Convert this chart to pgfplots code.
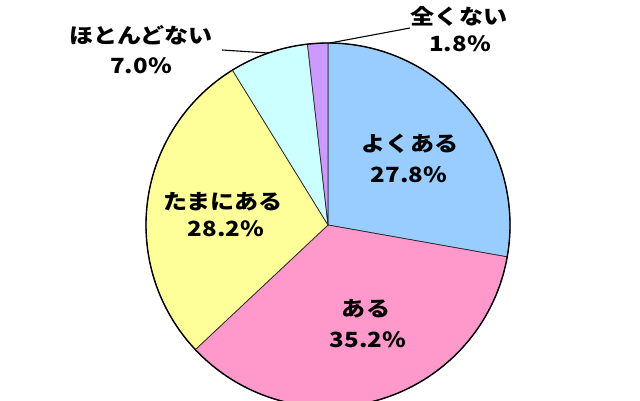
\documentclass[border=0pt]{standalone}
\usepackage{pgfplots}
\pgfplotsset{compat=1.18}
\usepackage{fontspec}
\newfontfamily\jp{Noto Sans CJK JP}

\definecolor{yoku}{HTML}{99CCFF}
\definecolor{aru}{HTML}{FF99CC}
\definecolor{tama}{HTML}{FFFF99}
\definecolor{hoto}{HTML}{CCFFFF}
\definecolor{mata}{HTML}{CC99FF}

% centre and radius of the pie, in axis units (1 unit = 1bp)
\newcommand\cx{328}
\newcommand\cy{175}
\newcommand\rr{182}

% \slice{percent before}{percent}{colour}
\newcommand\slice[3]{%
  \pgfmathsetmacro\sa{90-3.6*#1}%
  \pgfmathsetmacro\sb{90-3.6*(#1+#2)}%
  \pgfmathsetmacro\sx{\cx+\rr*cos(\sa)}%
  \pgfmathsetmacro\sy{\cy+\rr*sin(\sa)}%
  \edef\tmp{\noexpand\filldraw[fill=#3, draw=black!85, line width=0.7pt]
    (axis cs:\cx,\cy) -- (axis cs:\sx,\sy)
    arc[start angle=\sa, end angle=\sb, radius=\rr bp] -- cycle;}%
  \tmp}

\newcommand\lab[1]{\scalebox{1.15}[1]{\jp\bfseries\fontsize{21}{24}\selectfont #1}}

\begin{document}
\begin{tikzpicture}
\begin{axis}[
  name=pie,
  hide axis,
  scale only axis,
  width=640bp, height=400bp,
  xmin=0, xmax=640, ymin=0, ymax=400,
  enlargelimits=false,
  clip=true,
]
  \slice{0}{27.8}{yoku}
  \slice{27.8}{35.2}{aru}
  \slice{63.0}{28.2}{tama}
  \slice{91.2}{7.0}{hoto}
  \slice{98.2}{1.8}{mata}
  \draw[line width=1.4pt] (axis cs:\cx,\cy) circle[radius=\rr bp];

  % leader lines
  \draw[line width=1.1pt] (axis cs:222,350) -- (axis cs:268,347);
  \draw[line width=1.1pt] (axis cs:330,357) -- (axis cs:410,372);

  % labels
  \node at (axis cs:141,365) {\lab{ほとんどない}};
  \node at (axis cs:141,334) {\lab{7.0\%}};
  \node at (axis cs:459,384) {\lab{全くない}};
  \node at (axis cs:460,356) {\lab{1.8\%}};
  \node at (axis cs:410,256) {\lab{よくある}};
  \node at (axis cs:409,225) {\lab{27.8\%}};
  \node at (axis cs:223,198) {\lab{たまにある}};
  \node at (axis cs:226,171) {\lab{28.2\%}};
  \node at (axis cs:366,91) {\lab{ある}};
  \node at (axis cs:368,60) {\lab{35.2\%}};
\end{axis}
\pgfresetboundingbox
\path[use as bounding box] (pie.south west) rectangle (pie.north east);
\end{tikzpicture}
\end{document}
